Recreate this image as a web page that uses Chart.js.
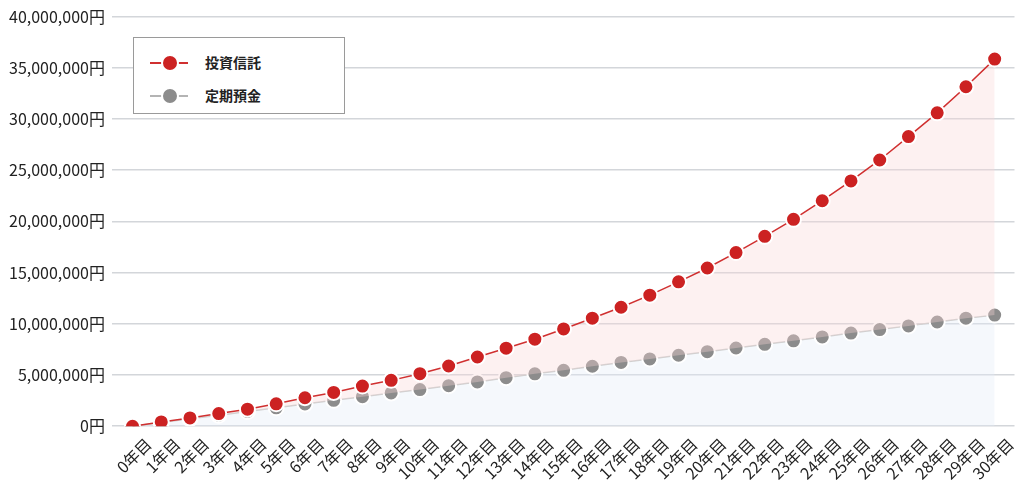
<!DOCTYPE html>
<html lang="ja">
<head>
<meta charset="utf-8">
<title>投資信託と定期預金</title>
<script src="https://cdn.jsdelivr.net/npm/chart.js@4.4.1/dist/chart.umd.min.js"></script>
<style>
  html, body { margin: 0; padding: 0; background: #fff; }
  #wrap { position: relative; width: 1024px; height: 485px; }
  #legend {
    position: absolute; left: 133px; top: 37px; width: 210px; height: 75px;
    border: 1px solid #9a9a9a; background: #fff;
    font-family: "Noto Sans CJK JP", "Noto Sans", sans-serif;
  }
  .item { position: absolute; left: 16px; height: 20px; }
  .item .line { position: absolute; left: 0; top: 9px; width: 38px; height: 1.5px; }
  .item .dot {
    position: absolute; left: 11px; top: 1px; width: 14px; height: 14px;
    border-radius: 50%; border: 2px solid #fff;
  }
  .item .label {
    position: absolute; left: 55px; top: -1px; font-size: 14px; font-weight: bold;
    color: #222; white-space: nowrap;
  }
</style>
</head>
<body>
<div id="wrap">
  <canvas id="myChart"></canvas>
  <div id="legend"></div>
</div>
<script>
'use strict';

// 0年目 .. 30年目
const years = ['0年目', '1年目', '2年目', '3年目', '4年目', '5年目', '6年目', '7年目', '8年目', '9年目',
  '10年目', '11年目', '12年目', '13年目', '14年目', '15年目', '16年目', '17年目', '18年目', '19年目',
  '20年目', '21年目', '22年目', '23年目', '24年目', '25年目', '26年目', '27年目', '28年目', '29年目', '30年目'];

const fundValues = [0, 420000, 810000, 1240000, 1670000, 2190000, 2780000, 3300000, 3920000, 4480000,
  5130000, 5880000, 6760000, 7620000, 8500000, 9500000, 10550000, 11620000, 12800000, 14100000,
  15450000, 16960000, 18540000, 20200000, 22020000, 23950000, 26000000, 28280000, 30600000, 33150000, 35850000];

const depositValues = [0, 360000, 720000, 1080000, 1440000, 1800000, 2170000, 2530000, 2890000, 3250000,
  3580000, 3960000, 4330000, 4740000, 5120000, 5460000, 5860000, 6230000, 6570000, 6930000,
  7280000, 7640000, 8000000, 8340000, 8720000, 9100000, 9440000, 9800000, 10180000, 10550000, 10850000];

const seriesNames = ['投資信託', '定期預金'];
const yTicks = [0, 5000000, 10000000, 15000000, 20000000, 25000000, 30000000, 35000000, 40000000];

const red = '#cc2222';
const gray = '#8c8c8c';
const fontFamily = '"Noto Sans CJK JP", "Noto Sans", sans-serif';

const chartCanvas = document.getElementById('myChart');

// points as {x: index, y: value} so the x axis can have a bit of room at both ends
function toPoints(values) {
  return values.map(function (v, i) { return { x: i, y: v }; });
}

new Chart(chartCanvas, {
  type: 'line',
  data: {
    datasets: [{
      label: seriesNames[0],
      data: toPoints(fundValues),
      borderColor: '#d03030',
      borderWidth: 1.5,
      backgroundColor: 'rgba(250, 215, 215, 0.35)',
      fill: '+1',
      pointRadius: 7.5,
      pointBorderWidth: 2,
      pointBackgroundColor: red,
      pointBorderColor: '#fff',
      tension: 0
    }, {
      label: seriesNames[1],
      data: toPoints(depositValues),
      borderColor: '#cfcfcf',
      borderWidth: 1.5,
      backgroundColor: 'rgba(225, 235, 245, 0.35)',
      fill: 'origin',
      pointRadius: 7.5,
      pointBorderWidth: 2,
      pointBackgroundColor: gray,
      pointBorderColor: '#fff',
      tension: 0
    }]
  },
  options: {
    responsive: true,
    maintainAspectRatio: false,
    animation: false,
    layout: { padding: { left: 2, right: 5, top: 8, bottom: 2 } },
    plugins: {
      legend: { display: false },
      tooltip: { enabled: false }
    },
    scales: {
      x: {
        type: 'linear',
        min: -0.716,
        max: years.length - 1 + 0.69,
        afterBuildTicks: function (axis) {
          axis.ticks = years.map(function (y, i) { return { value: i }; });
        },
        // the last label doesn't need extra room on the right
        afterFit: function (axis) {
          axis.paddingRight = 0;
        },
        grid: { display: false },
        border: { display: false },
        ticks: {
          color: '#222',
          font: { family: fontFamily, size: 16 },
          maxRotation: 45,
          minRotation: 45,
          autoSkip: false,
          labelOffset: 16,
          padding: 0,
          callback: function (value) {
            return years[value];
          }
        }
      },
      y: {
        min: 0,
        max: 40000000,
        afterBuildTicks: function (axis) {
          axis.ticks = yTicks.map(function (v) { return { value: v }; });
        },
        grid: { color: '#d3d6da', lineWidth: 1.5, drawTicks: false },
        border: { display: false },
        ticks: {
          color: '#222',
          padding: 7,
          font: { family: fontFamily, size: 16 },
          callback: function (value) {
            return value.toLocaleString('ja-JP') + '円';
          }
        }
      }
    }
  }
});

// custom legend: line with a dot in the middle
const legendBox = document.getElementById('legend');
const legendColors = [[red, '#d03030'], [gray, '#b4b4b4']];
for (let i = 0; i < seriesNames.length; i++) {
  const item = document.createElement('div');
  item.className = 'item';
  item.style.top = (15 + i * 33) + 'px';
  item.innerHTML = '<div class="line" style="background:' + legendColors[i][1] + '"></div>' +
    '<div class="dot" style="background:' + legendColors[i][0] + '"></div>' +
    '<div class="label">' + seriesNames[i] + '</div>';
  legendBox.appendChild(item);
}
</script>
</body>
</html>
